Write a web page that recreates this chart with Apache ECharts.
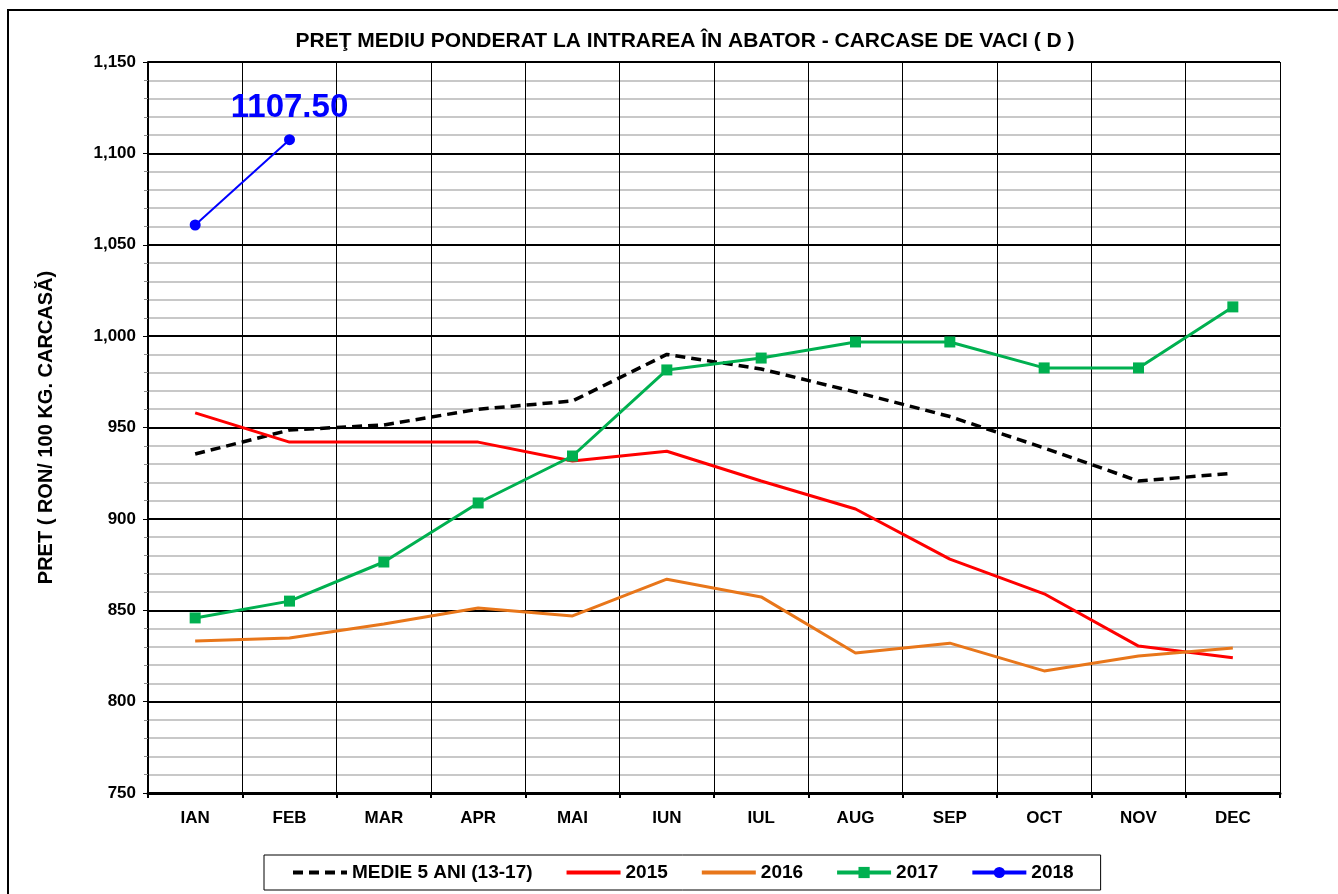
<!DOCTYPE html>
<html><head><meta charset="utf-8">
<script src="https://cdn.jsdelivr.net/npm/echarts@6/dist/echarts.min.js"></script>
<style>html,body{margin:0;padding:0;background:#fff}#c{width:1338px;height:894px}</style>
</head><body><div id="c"></div>
<script>
const months = ['IAN','FEB','MAR','APR','MAI','IUN','IUL','AUG','SEP','OCT','NOV','DEC'];
const medie = [935.5, 948.6, 951.4, 960, 964.5, 990, 982, 969.4, 956, 938.8, 920.7, 925];
const y2015 = [958, 942, 942, 942, 931.7, 937, 920.7, 905.4, 878, 859, 830.4, 824];
const y2016 = [833.2, 834.8, 842.5, 851.2, 846.9, 867, 857.3, 826.6, 832, 816.8, 825, 829.3];
const y2017 = [845.8, 855, 876.4, 908.7, 934.4, 981.5, 988, 996.8, 996.8, 982.6, 982.6, 1016];
const y2018 = [1060.8, 1107.5];
const seriesNames = ['MEDIE 5 ANI (13-17)', '2015', '2016', '2017', '2018'];

const chart = echarts.init(document.getElementById('c'));
const F = 'Arial, "Liberation Sans", sans-serif';
const hide = {color: 'rgba(0,0,0,0)', borderWidth: 0};
chart.setOption({
  animation: false,
  title: {text: 'PREŢ MEDIU PONDERAT LA INTRAREA ÎN ABATOR - CARCASE DE VACI ( D )', left: 680, textAlign: 'center', top: 26,
    textStyle: {fontFamily: F, fontWeight: 'bold', fontSize: 21, color: '#000'}},
  graphic: [{type: 'rect', shape: {x: 8, y: 10, width: 1345, height: 900}, style: {fill: 'none', stroke: '#000', lineWidth: 2}, silent: true}],
  legend: {
    bottom: 4, left: 264, itemGap: 32, itemWidth: 54, itemHeight: 14,
    borderColor: '#000', borderWidth: 1, padding: [8, 27, 8, 27],
    lineStyle: {width: 4},
    textStyle: {fontFamily: F, fontWeight: 'bold', fontSize: 19, color: '#000'},
    data: [
      {name: seriesNames[0], itemStyle: hide},
      {name: seriesNames[1], itemStyle: hide},
      {name: seriesNames[2], itemStyle: hide},
      {name: seriesNames[3]},
      {name: seriesNames[4]}
    ]
  },
  grid: {left: 148, right: 58, top: 62, bottom: 101, containLabel: false},
  xAxis: {
    type: 'category', data: months, boundaryGap: true,
    axisLine: {lineStyle: {color: '#000', width: 3}},
    axisTick: {show: true, length: 5, lineStyle: {color: '#000', width: 2}},
    axisLabel: {fontFamily: F, fontWeight: 'bold', fontSize: 17, color: '#000', margin: 17},
    splitLine: {show: true, lineStyle: {color: '#000', width: 1}}
  },
  yAxis: {
    type: 'value', min: 750, max: 1150, interval: 50,
    axisLine: {show: true, lineStyle: {color: '#000', width: 2}},
    axisTick: {show: true, length: 5, lineStyle: {color: '#000', width: 1}},
    minorTick: {show: true, splitNumber: 5, length: 4, lineStyle: {color: '#888'}},
    minorSplitLine: {show: true, lineStyle: {color: '#c8c8c8', width: 2}},
    splitLine: {show: true, lineStyle: {color: '#000', width: 2}},
    axisLabel: {fontFamily: F, fontWeight: 'bold', fontSize: 17, color: '#000', margin: 12,
      formatter: v => v.toLocaleString('en-US')},
    name: 'PRET ( RON/ 100 KG. CARCASĂ)', nameLocation: 'middle', nameGap: 92, nameRotate: 90,
    nameTextStyle: {fontFamily: F, fontWeight: 'bold', fontSize: 20, color: '#000'}
  },
  series: [
    {name: seriesNames[0], type: 'line', data: medie, symbol: 'none', z: 3,
      lineStyle: {color: '#000', width: 3.5, type: [10, 6]}, itemStyle: {color: '#000'}},
    {name: seriesNames[1], type: 'line', data: y2015, symbol: 'none', z: 3,
      lineStyle: {color: '#ff0000', width: 3}, itemStyle: {color: '#ff0000'}},
    {name: seriesNames[2], type: 'line', data: y2016, symbol: 'none', z: 3,
      lineStyle: {color: '#e8761a', width: 3}, itemStyle: {color: '#e8761a'}},
    {name: seriesNames[3], type: 'line', data: y2017, symbol: 'rect', symbolSize: 11, z: 4,
      lineStyle: {color: '#00b050', width: 3}, itemStyle: {color: '#00b050'}},
    {name: seriesNames[4], type: 'line', data: y2018, symbol: 'circle', symbolSize: 11, z: 5,
      lineStyle: {color: '#0000ff', width: 2}, itemStyle: {color: '#0000ff'},
      label: {show: true, position: 'top', distance: 10, fontFamily: F, fontWeight: 'bold', fontSize: 33, color: '#0000ff',
        formatter: p => p.dataIndex === 1 ? p.value.toFixed(2) : ''}}
  ]
});
</script></body></html>
